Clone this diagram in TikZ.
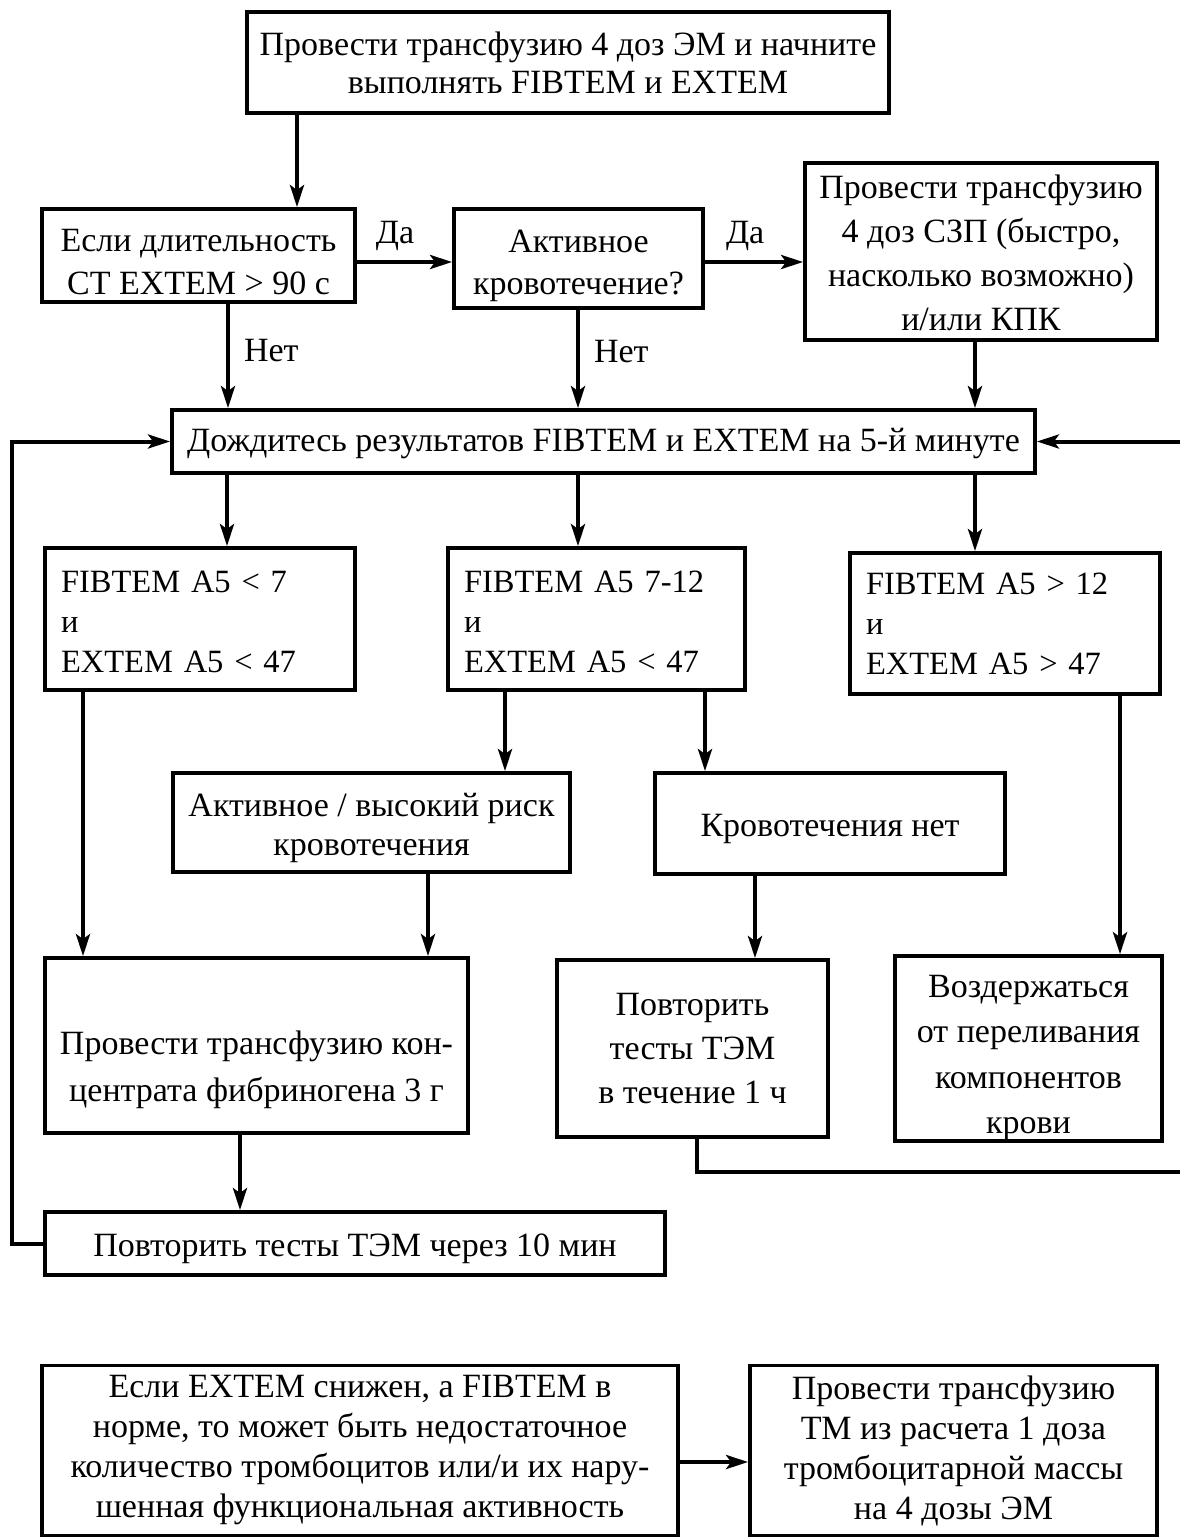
\documentclass[tikz,border=0pt]{standalone}
\usepackage{fontspec}
\setmainfont{Liberation Serif}
\usetikzlibrary{arrows.meta}
\newcommand\dnrule[1]{\rule{0pt}{#1pt}}
\begin{document}
\begin{tikzpicture}[x=1pt,y=-1pt,
  box/.style={draw, line width=3.8pt, align=center, inner sep=0pt,
    font=\fontsize{34}{44}\selectfont},
  lbox/.style={draw, line width=3.8pt, align=left, inner xsep=16pt, inner ysep=0pt,
    font=\fontsize{32.5}{40}\selectfont},
  arr/.style={line width=4pt, -{Stealth[length=22pt,width=14pt,inset=5pt]}},
  lbl/.style={font=\fontsize{34}{38}\selectfont, inner sep=0pt}]
\useasboundingbox (0,0) rectangle (1179,1538);
% boxes
\node[box, font=\fontsize{34}{38}\selectfont, minimum width=642pt, minimum height=101pt] (A) at (568,62.5)
  {Провести трансфузию 4 доз ЭМ и начните\\выполнять FIBTEM и EXTEM};
\node[box, font=\fontsize{34}{43}\selectfont, minimum width=313pt, minimum height=93pt] (B) at (198.5,255.5)
  {\dnrule{35}Если длительность\\СТ EXTEM > 90 с};
\node[box, font=\fontsize{34}{42}\selectfont, minimum width=249pt, minimum height=99pt] (C) at (578.5,258.5)
  {\dnrule{37}Активное\\кровотечение?};
\node[box, minimum width=352pt, minimum height=177pt] (D) at (981,251.5)
  {\dnrule{26}Провести трансфузию\\4 доз СЗП (быстро,\\насколько возможно)\\и/или КПК};
\node[box, minimum width=863pt, minimum height=63pt] (E) at (603.5,441.5)
  {\dnrule{27}Дождитесь результатов FIBTEM и EXTEM на 5-й минуте};
\node[lbox, text width=278pt, minimum height=142pt] (F) at (200,619)
  {\dnrule{28}FIBTEM A5 < 7\\и\\EXTEM A5 < 47};
\node[lbox, text width=265pt, minimum height=142pt] (G) at (596.5,619)
  {\dnrule{27}FIBTEM A5 7-12\\и\\EXTEM A5 < 47};
\node[lbox, text width=278pt, minimum height=141pt] (H) at (1005,623.5)
  {FIBTEM A5 > 12\\и\\EXTEM A5 > 47};
\node[box, font=\fontsize{34}{39}\selectfont, minimum width=397pt, minimum height=99pt] (I) at (371.5,822.5)
  {\dnrule{35}Активное / высокий риск\\кровотечения};
\node[box, minimum width=350pt, minimum height=101pt] (J) at (830,823.5)
  {\dnrule{33}Кровотечения нет};
\node[box, font=\fontsize{34}{47}\selectfont, minimum width=423pt, minimum height=175pt] (K) at (256.5,1045.5)
  {\dnrule{72}Провести трансфузию кон-\\центрата фибриногена 3 г};
\node[box, minimum width=271pt, minimum height=177pt] (L) at (692.5,1048.5)
  {Повторить\\тесты ТЭМ\\в течение 1 ч};
\node[box, font=\fontsize{34}{45.5}\selectfont, minimum width=267pt, minimum height=177pt] (M) at (1028.5,1048.5)
  {\dnrule{41}Воздержаться\\от переливания\\компонентов\\крови};
\node[box, minimum width=620pt, minimum height=63pt] (N) at (355,1243.5)
  {\dnrule{33}Повторить тесты ТЭМ через 10 мин};
\node[box, font=\fontsize{34}{40}\selectfont, minimum width=636pt, minimum height=170pt] (O) at (360,1450.5)
  {Если EXTEM снижен, а FIBTEM в\\норме, то может быть недостаточное\\количество тромбоцитов или/и их нару-\\шенная функциональная активность};
\node[box, font=\fontsize{34}{40}\selectfont, minimum width=407pt, minimum height=170pt] (P) at (953.5,1450.5)
  {Провести трансфузию\\ТМ из расчета 1 доза\\тромбоцитарной массы\\на 4 дозы ЭМ};
% connectors
\draw[arr] (A.south -| 297,0) -- (B.north -| 297,0);
\draw[arr] (B.east |- 0,262) -- (C.west |- 0,262) node[lbl, pos=0.4, above=9pt] (da1) {Да};
\draw[arr] (C.east |- 0,262) -- (D.west |- 0,262) node[lbl, pos=0.41, above=9pt] (da2) {Да};
\draw[arr] (B.south -| 228,0) -- (E.north -| 228,0) node[lbl, pos=0.45, right=14pt] (net1) {Нет};
\draw[arr] (C.south -| 578,0) -- (E.north -| 578,0) node[lbl, pos=0.42, right=14pt] (net2) {Нет};
\draw[arr] (D.south -| 975,0) -- (E.north -| 975,0);
\draw[arr] (E.south -| 227,0) -- (F.north -| 227,0);
\draw[arr] (E.south -| 578,0) -- (G.north -| 578,0);
\draw[arr] (E.south -| 975,0) -- (H.north -| 975,0);
\draw[arr] (F.south -| 83,0) -- (K.north -| 83,0);
\draw[arr] (G.south -| 505,0) -- (I.north -| 505,0);
\draw[arr] (G.south -| 705,0) -- (J.north -| 705,0);
\draw[arr] (I.south -| 428,0) -- (K.north -| 428,0);
\draw[arr] (J.south -| 755,0) -- (L.north -| 755,0);
\draw[arr] (H.south -| 1120,0) -- (M.north -| 1120,0);
\draw[arr] (K.south -| 240,0) -- (N.north -| 240,0);
\draw[arr] (N.west) -- (12,1243.5) -- (12,441.5) -- (E.west);
\draw[arr] (L.south -| 697,0) -- (697,1172) -- (1184,1172) -- (1184,441.5) -- (E.east);
\draw[arr] (O.east |- 0,1462) -- (P.west |- 0,1462);
\end{tikzpicture}
\end{document}
